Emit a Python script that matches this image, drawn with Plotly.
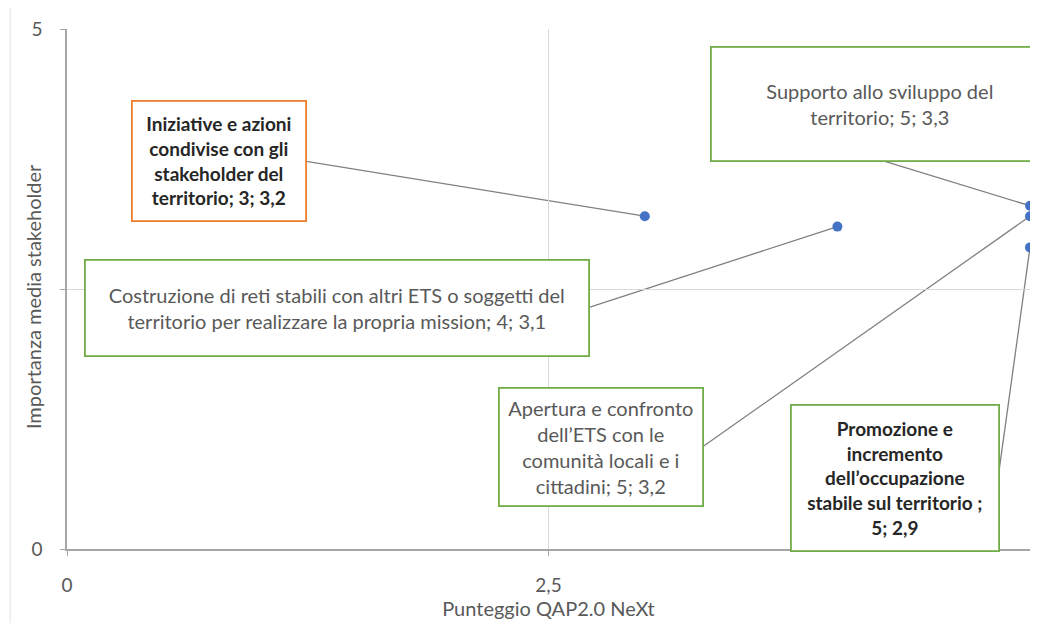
import plotly.graph_objects as go

# dati
labels = [
    "Iniziative e azioni<br>condivise con gli<br>stakeholder del<br>territorio; 3; 3,2",
    "Costruzione di reti stabili con altri ETS o soggetti del<br>territorio per realizzare la propria mission; 4; 3,1",
    "Supporto allo sviluppo del<br>territorio; 5; 3,3",
    "Apertura e confronto<br>dell\u2019ETS con le<br>comunità locali e i<br>cittadini; 5; 3,2",
    "Promozione e<br>incremento<br>dell\u2019occupazione<br>stabile sul territorio ;<br>5; 2,9",
]
punteggio = [3, 4, 5, 5, 5]
importanza = [3.2, 3.1, 3.3, 3.2, 2.9]
x_ticks = [0, 2.5, 5]
x_ticktext = ["0", "2,5", "5"]
y_ticks = [0, 2.5, 5]
y_ticktext = ["0", "", "5"]

# posizione/stile delle etichette: centro del riquadro in pixel rispetto al punto (y verso il basso)
offsets = [(-426, -55), (-500, 81), (-150, -102), (-429, 231), (-135, 231)]
box_size = [(172, 118), (502, 94), (336, 112), (202, 116), (206, 144)]
attacco = ["right", "right", "bottom", "right", "right"]
bold = [True, False, False, False, True]
border = ["#ed7d31", "#70ad47", "#70ad47", "#70ad47", "#70ad47"]
font_size = [19, 20, 20, 20, 19]

GRIGIO = "#595959"
FONT = "Lato"

fig = go.Figure()
fig.add_trace(go.Scatter(
    x=punteggio, y=importanza, mode="markers",
    marker=dict(color="#4472c4", size=10),
    cliponaxis=False, showlegend=False,
))

for i, txt in enumerate(labels):
    w, h = box_size[i]
    dx, dy = offsets[i]
    # linea guida dal punto al bordo del riquadro
    if attacco[i] == "right":
        ex, ey = dx + w / 2, dy
    else:
        ex, ey = dx, dy + h / 2
    fig.add_shape(
        type="line", xref="x", yref="y", layer="below",
        xsizemode="pixel", ysizemode="pixel",
        xanchor=punteggio[i], yanchor=importanza[i],
        x0=0, y0=0, x1=ex, y1=-ey,
        line=dict(color="#808080", width=1.3),
    )
    fig.add_annotation(
        x=punteggio[i], y=importanza[i], xref="x", yref="y",
        xshift=dx, yshift=-dy, xanchor="center", yanchor="middle",
        showarrow=False,
        text=f"<b>{txt}</b>" if bold[i] else txt,
        width=w, height=h, align="center", valign="middle",
        bgcolor="white", bordercolor=border[i], borderwidth=1.8, borderpad=0,
        font=dict(family=FONT, size=font_size[i], color="#262626" if bold[i] else GRIGIO),
    )

# titolo asse y (sovrapposto all'etichetta 2,5 come nell'originale)
fig.add_annotation(
    text="Importanza media stakeholder", textangle=-90,
    xref="paper", yref="paper", x=-0.035, y=0.485,
    xanchor="center", yanchor="middle", showarrow=False,
    font=dict(family=FONT, size=20, color=GRIGIO),
)

# bordo sottile dell'area grafico a sinistra
fig.add_shape(type="line", xref="paper", yref="paper",
              x0=-0.059, x1=-0.059, y0=-0.2, y1=1.2,
              line=dict(color="#e3e3e3", width=1))

fig.update_xaxes(
    range=[0, 5], tickvals=x_ticks, ticktext=x_ticktext, automargin=False,
    showgrid=True, gridcolor="#d9d9d9", gridwidth=1,
    showline=True, linecolor="#a6a6a6", linewidth=1.5,
    ticks="outside", ticklen=5, tickcolor="#a6a6a6", ticklabelstandoff=13,
    zeroline=False, tickfont=dict(family=FONT, size=19, color=GRIGIO),
    title=dict(text="Punteggio QAP2.0 NeXt", standoff=4,
               font=dict(family=FONT, size=20, color=GRIGIO)),
)
fig.update_yaxes(
    range=[0, 5], tickvals=y_ticks, ticktext=y_ticktext, automargin=False,
    showgrid=True, gridcolor="#d9d9d9", gridwidth=1,
    showline=True, linecolor="#a6a6a6", linewidth=1.5,
    ticks="outside", ticklen=5, tickcolor="#a6a6a6", ticklabelstandoff=14,
    zeroline=False, tickfont=dict(family=FONT, size=19, color=GRIGIO),
)

# la pagina html ha un margine di 8px: la figura è ridotta per evitare le barre di scorrimento
fig.update_layout(
    width=1022, height=615,
    margin=dict(l=59, r=0, t=21, b=74),
    plot_bgcolor="white", paper_bgcolor="white",
    separators=", ",
    font=dict(family=FONT, color=GRIGIO),
)

fig.write_html("out.html")
